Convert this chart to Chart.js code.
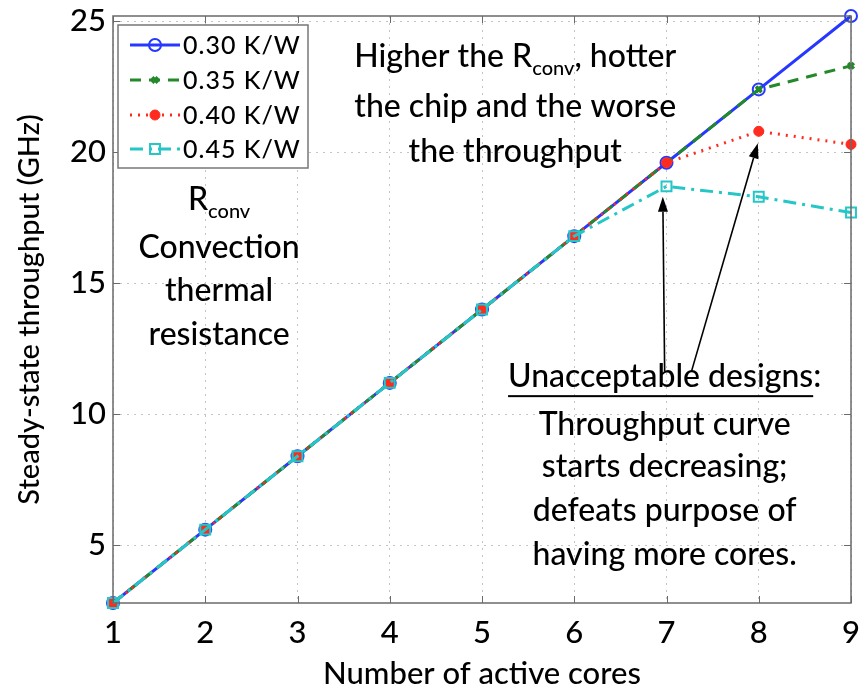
<!DOCTYPE html>
<html>
<head>
<meta charset="utf-8">
<script src="https://cdn.jsdelivr.net/npm/chart.js@4/dist/chart.umd.min.js"></script>
<style>
    html, body { margin: 0; padding: 0; background: #fff; }
    canvas { display: block; }
</style>
</head>
<body>
<canvas id="throughput-chart" width="865" height="693"></canvas>
<script>
// data
const cores = [1, 2, 3, 4, 5, 6, 7, 8, 9];
const yTickValues = [5, 10, 15, 20, 25];
const seriesLabels = ['0.30 K/W', '0.35 K/W', '0.40 K/W', '0.45 K/W'];
const r030 = [2.8, 5.6, 8.4, 11.2, 14.0, 16.8, 19.6, 22.4, 25.2];
const r035 = [2.8, 5.6, 8.4, 11.2, 14.0, 16.8, 19.6, 22.4, 23.3];
const r040 = [2.8, 5.6, 8.4, 11.2, 14.0, 16.8, 19.6, 20.8, 20.3];
const r045 = [2.8, 5.6, 8.4, 11.2, 14.0, 16.8, 18.7, 18.3, 17.7];

const xTitle = 'Number of active cores';
const yTitle = 'Steady-state throughput (GHz)';

// annotation texts: each line is a list of [text, style] parts
const heatNote = [
    [['Higher the R', ''], ['conv', 'sub'], [', hotter', '']],
    [['the chip and the worse', '']],
    [['the throughput', '']]
];
const rconvNote = [
    [['R', ''], ['conv', 'sub']],
    [['Convection', '']],
    [['thermal', '']],
    [['resistance', '']]
];
const badNote = [
    [['Unacceptable designs', 'u'], [':', '']],
    [['Throughput curve', '']],
    [['starts decreasing;', '']],
    [['defeats purpose of', '']],
    [['having more cores.', '']]
];

const FONT = 'Lato, "DejaVu Sans", sans-serif';
const W = 500;

const colors = {
    blue: '#2638ff',
    green: '#23892a',
    red: '#ff2b1f',
    cyan: '#25c6c6'
};

const toPoints = arr => arr.map((v, i) => ({ x: cores[i], y: v }));

const series = [
    { label: seriesLabels[0], data: r030, color: colors.blue, dash: [], style: 'circle', radius: 6, fill: 'rgba(0,0,0,0)', bw: 2 },
    { label: seriesLabels[1], data: r035, color: colors.green, dash: [11, 8], style: 'crossRot', radius: 4, fill: colors.green, bw: 3.5 },
    { label: seriesLabels[2], data: r040, color: colors.red, dash: [2, 6], style: 'circle', radius: 5, fill: colors.red, bw: 1 },
    { label: seriesLabels[3], data: r045, color: colors.cyan, dash: [13, 6, 3, 6], style: 'rect', radius: 7, fill: 'rgba(0,0,0,0)', bw: 2 }
];

function drawRich(ctx, parts, cx, cy, size) {
    const subSize = Math.round(size * 0.62);
    const widthOf = p => {
        ctx.font = `${W} ${p[1] === 'sub' ? subSize : size}px ${FONT}`;
        return ctx.measureText(p[0]).width;
    };
    const total = parts.reduce((s, p) => s + widthOf(p), 0);
    let x = cx - total / 2;
    ctx.textBaseline = 'middle';
    ctx.textAlign = 'left';
    parts.forEach(p => {
        const w = widthOf(p);
        const yy = p[1] === 'sub' ? cy + size * 0.38 : cy;
        ctx.fillText(p[0], x, yy);
        if (p[1] === 'u') {
            ctx.fillRect(x, cy + size * 0.58, w, 2);
        }
        x += w;
    });
}

function drawArrow(ctx, x1, y1, x2, y2) {
    const ang = Math.atan2(y2 - y1, x2 - x1);
    const head = 15, half = 5;
    const bx = x2 - head * Math.cos(ang), by = y2 - head * Math.sin(ang);
    ctx.beginPath();
    ctx.moveTo(x1, y1);
    ctx.lineTo(bx, by);
    ctx.stroke();
    ctx.beginPath();
    ctx.moveTo(x2, y2);
    ctx.lineTo(bx + half * Math.sin(ang), by - half * Math.cos(ang));
    ctx.lineTo(bx - half * Math.sin(ang), by + half * Math.cos(ang));
    ctx.closePath();
    ctx.fill();
}

const figurePlugin = {
    id: 'figure-extras',
    afterDatasetsDraw(chart) {
        const { ctx, chartArea: a, scales: { x, y } } = chart;
        ctx.save();
        ctx.strokeStyle = '#6a6a6a';
        ctx.lineWidth = 1;
        const tick = (x1, y1, x2, y2) => {
            ctx.beginPath();
            ctx.moveTo(x1, y1);
            ctx.lineTo(x2, y2);
            ctx.stroke();
        };
        x.ticks.forEach(t => {
            const px = Math.round(x.getPixelForValue(t.value)) + 0.5;
            tick(px, a.bottom, px, a.bottom - 7);
            tick(px, a.top, px, a.top + 7);
        });
        y.ticks.forEach(t => {
            const py = Math.round(y.getPixelForValue(t.value)) + 0.5;
            tick(a.left, py, a.left + 7, py);
            tick(a.right, py, a.right - 7, py);
        });
        ctx.lineWidth = 1.5;
        ctx.strokeRect(a.left, a.top, a.right - a.left, a.bottom - a.top);
        ctx.restore();
    },
    afterDraw(chart) {
        const { ctx, scales: { x, y } } = chart;
        ctx.save();

        // legend box
        const lg = { left: 118, top: 25, right: 308, bottom: 168 };
        ctx.fillStyle = '#fff';
        ctx.fillRect(lg.left, lg.top, lg.right - lg.left, lg.bottom - lg.top);
        ctx.strokeStyle = '#777';
        ctx.lineWidth = 1.5;
        ctx.strokeRect(lg.left, lg.top, lg.right - lg.left, lg.bottom - lg.top);
        const rowY = [45, 80, 115, 149];
        series.forEach((s, i) => {
            const ry = rowY[i];
            ctx.save();
            ctx.strokeStyle = s.color;
            ctx.lineWidth = 3;
            ctx.setLineDash(s.dash);
            ctx.beginPath();
            ctx.moveTo(130, ry);
            ctx.lineTo(180, ry);
            ctx.stroke();
            ctx.restore();
            ctx.save();
            ctx.strokeStyle = s.color;
            ctx.fillStyle = s.fill;
            ctx.lineWidth = s.bw;
            Chart.helpers.drawPoint(ctx, { pointStyle: s.style, radius: s.radius, borderWidth: s.bw, rotation: 0 }, 155, ry);
            ctx.restore();
            ctx.fillStyle = '#000';
            ctx.font = `${W} 25px ${FONT}`;
            ctx.letterSpacing = '1px';
            ctx.textAlign = 'left';
            ctx.textBaseline = 'middle';
            ctx.fillText(s.label, 183, ry + 1);
            ctx.letterSpacing = '0px';
        });

        // annotations
        ctx.fillStyle = '#000';
        const block = (lines, cxVal, yVals, size) => {
            lines.forEach((parts, i) => drawRich(ctx, parts, x.getPixelForValue(cxVal), y.getPixelForValue(yVals[i]), size));
        };
        block(heatNote, 5.36, [23.64, 21.74, 20.04], 32);
        block(rconvNote, 2.15, [18.2, 16.36, 14.7, 13.03], 32);
        block(badNote, 6.98, [11.44, 9.62, 8.0, 6.33, 4.66], 32);

        ctx.strokeStyle = '#000';
        ctx.fillStyle = '#000';
        ctx.lineWidth = 1.6;
        drawArrow(ctx, x.getPixelForValue(6.98), y.getPixelForValue(11.63), x.getPixelForValue(6.96), y.getPixelForValue(18.3));
        drawArrow(ctx, x.getPixelForValue(7.27), y.getPixelForValue(11.63), x.getPixelForValue(7.99), y.getPixelForValue(20.34));
        ctx.restore();
    }
};

const tickFont = { family: FONT, size: 31, weight: W };
const titleFont = { family: FONT, size: 31, weight: W };

new Chart(document.getElementById('throughput-chart'), {
    type: 'line',
    data: {
        datasets: series.map((s, i) => ({
            label: s.label,
            data: toPoints(s.data),
            borderColor: s.color,
            backgroundColor: s.fill,
            borderWidth: 3,
            borderDash: s.dash,
            pointStyle: s.style,
            pointRadius: s.radius,
            pointBorderWidth: s.bw,
            pointBorderColor: s.color,
            pointBackgroundColor: s.fill,
            tension: 0,
            clip: false,
            order: series.length - i
        }))
    },
    options: {
        responsive: false,
        animation: false,
        events: [],
        layout: { padding: { left: 12, right: 14, top: 16, bottom: 0 } },
        scales: {
            x: {
                type: 'linear',
                min: 1,
                max: 9,
                afterFit: scale => {
                    scale.height = 90;
                    scale.paddingLeft = 0;
                    scale.paddingRight = 0;
                },
                afterBuildTicks: scale => { scale.ticks = cores.map(v => ({ value: v })); },
                grid: { color: '#c4c4c4', lineWidth: 1, drawTicks: false },
                border: { display: false, dash: [2, 5] },
                ticks: {
                    padding: 11,
                    color: '#000',
                    font: tickFont,
                    maxRotation: 0
                },
                title: {
                    display: true,
                    text: xTitle,
                    color: '#000',
                    font: titleFont,
                    padding: { top: 0, bottom: 0 }
                }
            },
            y: {
                type: 'linear',
                min: 2.8,
                max: 25.2,
                afterFit: scale => {
                    scale.width = 101;
                    scale.paddingTop = 0;
                    scale.paddingBottom = 0;
                },
                afterBuildTicks: scale => { scale.ticks = yTickValues.map(v => ({ value: v })); },
                grid: { color: '#c4c4c4', lineWidth: 1, drawTicks: false },
                border: { display: false, dash: [2, 5] },
                ticks: {
                    padding: 7,
                    color: '#000',
                    font: tickFont
                },
                title: {
                    display: true,
                    text: yTitle,
                    color: '#000',
                    font: { family: FONT, size: 29, weight: W },
                    padding: { top: 0, bottom: 0 }
                }
            }
        },
        plugins: {
            legend: { display: false },
            tooltip: { enabled: false }
        }
    },
    plugins: [figurePlugin]
});
</script>
</body>
</html>
